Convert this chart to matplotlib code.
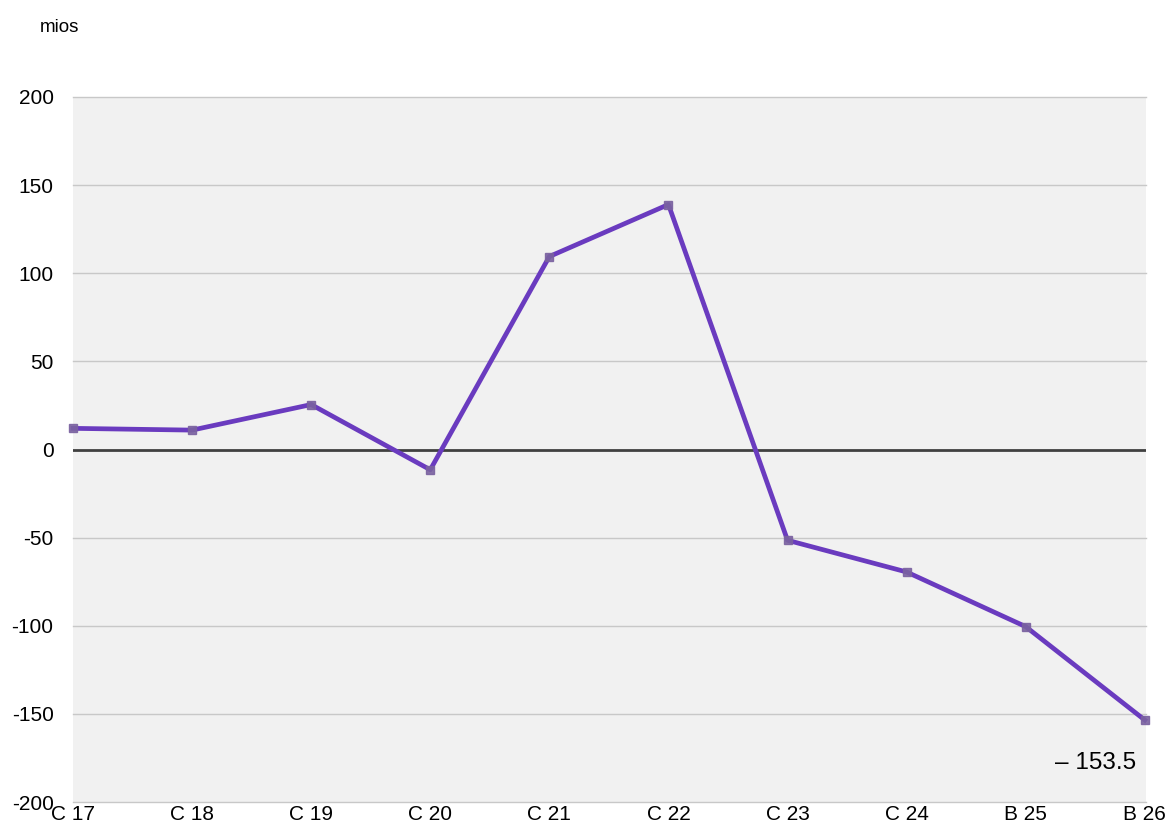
import numpy as np
import matplotlib.pyplot as plt

plt.rcParams["font.family"] = ["Liberation Sans", "DejaVu Sans"]

categories = ["C 17", "C 18", "C 19", "C 20", "C 21", "C 22", "C 23", "C 24", "B 25", "B 26"]
values = [12, 11, 25.5, -11.5, 109.5, 139, -51.5, -69.5, -100.5, -153.5]
y_ticks = [-200, -150, -100, -50, 0, 50, 100, 150, 200]

LINE_COLOR = "#6a3bbf"
MARKER_COLOR = "#7a62a0"


def main():
    fig = plt.figure(figsize=(11.7, 8.39), dpi=100)
    ax = fig.add_axes([73 / 1170, 37 / 839, (1146 - 73) / 1170, (802 - 97) / 839])
    ax.set_facecolor("#f1f1f1")

    x = np.arange(len(categories))
    ax.plot(x, values, color=LINE_COLOR, linewidth=3.4, zorder=3, clip_on=False,
            solid_joinstyle="round")
    ax.plot(x, values, linestyle="none", marker="s", markersize=5.5,
            color=MARKER_COLOR, alpha=0.9, zorder=4, clip_on=False)

    ax.set_xlim(0.025, len(categories) - 1 + 0.01)
    ax.set_ylim(-200, 200)
    ax.set_xticks(x)
    ax.set_xticklabels(categories)
    ax.set_yticks(y_ticks)
    ax.set_yticklabels([str(v) for v in y_ticks])
    ax.tick_params(axis="both", length=0, labelsize=15)
    ax.tick_params(axis="y", pad=14)
    ax.tick_params(axis="x", pad=2)

    for v in y_ticks:
        if v == 0:
            ax.axhline(v, color="#404040", linewidth=2, zorder=2)
        else:
            ax.axhline(v, color="#c8c8c8", linewidth=1, zorder=1, clip_on=False)

    for s in ax.spines.values():
        s.set_visible(False)

    ax.annotate("\u2013 153.5", xy=(x[-1], values[-1]), xytext=(-6, -31),
                textcoords="offset points", ha="right", va="center", fontsize=17.5)

    fig.text(40 / 1170, 1 - 27 / 839, "mios", fontsize=13.5, ha="left", va="center")

    fig.savefig("out.png", dpi=100)


if __name__ == "__main__":
    main()
